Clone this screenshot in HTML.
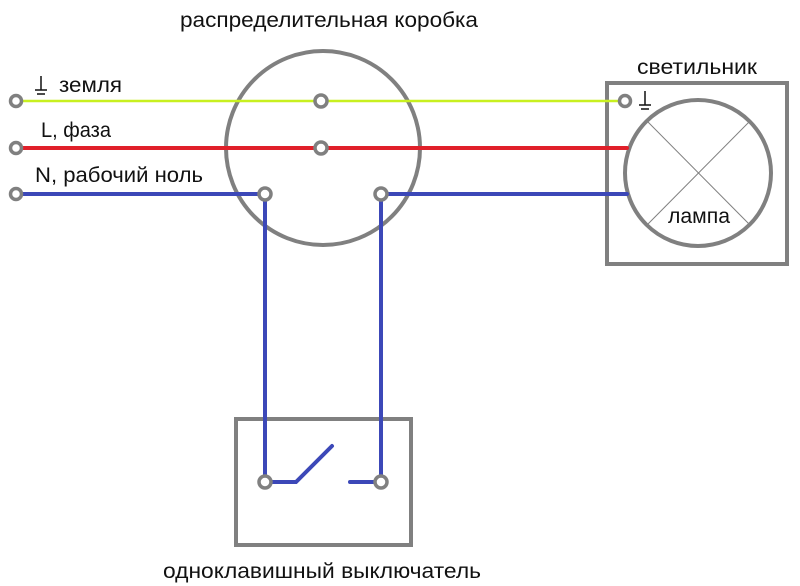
<!DOCTYPE html>
<html><head><meta charset="utf-8"><style>html,body{margin:0;padding:0;background:#fff}svg{display:block}</style></head>
<body>
<svg width="800" height="586" viewBox="0 0 800 586" xmlns="http://www.w3.org/2000/svg" font-family="Liberation Sans, DejaVu Sans, sans-serif" fill="#111">
<g fill="none" stroke="#808080" stroke-width="4">
<circle cx="323" cy="148" r="97"/>
<rect x="607" y="83" width="180" height="181"/>
<rect x="236" y="419" width="175" height="126"/>
<circle cx="698" cy="173" r="73"/>
</g>
<g stroke="#808080" stroke-width="1">
<line x1="647" y1="121" x2="750" y2="225"/>
<line x1="750" y1="121" x2="647" y2="225"/>
</g>
<g fill="none" stroke-width="4" stroke-linecap="round">
<line x1="16" y1="101" x2="625" y2="101" stroke="#c8f020" stroke-width="2.5"/>
<line x1="16" y1="148" x2="627" y2="148" stroke="#e0202a"/>
<polyline points="16,194 265,194 265,482" stroke="#3c48b8"/>
<polyline points="627,194 381,194 381,482" stroke="#3c48b8"/>
<polyline points="265,482 296,482 332,446" stroke="#3c48b8"/>
<line x1="350" y1="482" x2="381" y2="482" stroke="#3c48b8"/>
</g>
<g fill="#fff" stroke="#808080" stroke-width="3.5">
<circle cx="16" cy="101" r="5.5"/><circle cx="16" cy="148" r="5.5"/><circle cx="16" cy="194" r="5.5"/>
<circle cx="321" cy="101" r="6"/><circle cx="321" cy="148" r="6"/>
<circle cx="265" cy="194" r="6"/><circle cx="381" cy="194" r="6"/>
<circle cx="625" cy="101" r="5.5"/>
<circle cx="265" cy="482" r="6"/><circle cx="381" cy="482" r="6"/>
</g>
<g stroke="#111" stroke-width="1.5" fill="none">
<path d="M41 76V90M35 90H47M37 94H45"/>
<path d="M645 91V105M639 105H651M641 109H649"/>
</g>
<g font-size="21">
<text x="180" y="27" textLength="298" lengthAdjust="spacingAndGlyphs">распределительная коробка</text>
<text x="637" y="74" textLength="120" lengthAdjust="spacingAndGlyphs">светильник</text>
<text x="59" y="92" textLength="63" lengthAdjust="spacingAndGlyphs">земля</text>
<text x="41" y="137" textLength="70" lengthAdjust="spacingAndGlyphs">L, фаза</text>
<text x="35" y="182" textLength="168" lengthAdjust="spacingAndGlyphs">N, рабочий ноль</text>
<text x="668" y="223" textLength="62" lengthAdjust="spacingAndGlyphs">лампа</text>
<text x="163" y="578" textLength="318" lengthAdjust="spacingAndGlyphs">одноклавишный выключатель</text>
</g>
</svg>
</body></html>
